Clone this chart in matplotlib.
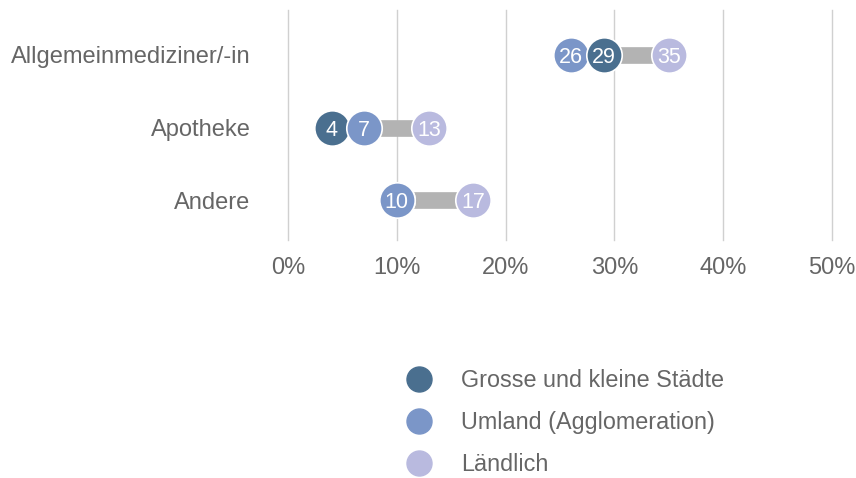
import matplotlib
matplotlib.use("Agg")
import matplotlib.pyplot as plt
from matplotlib.lines import Line2D

plt.rcParams['font.family'] = ['Liberation Sans', 'DejaVu Sans']

categories = ["Allgemeinmediziner/-in", "Apotheke", "Andere"]
series_names = ["Grosse und kleine Städte", "Umland (Agglomeration)", "Ländlich"]
grosse = [29, 4, 10]
umland = [26, 7, 10]
laendlich = [35, 13, 17]
xticks = [0, 10, 20, 30, 40, 50]
xticklabels = ["0%", "10%", "20%", "30%", "40%", "50%"]

colors = ["#4a6f8f", "#7b96c8", "#b9badf"]
text_color = "#666666"

W, H = 856, 478
fig = plt.figure(figsize=(W / 100, H / 100), dpi=100)
ax = fig.add_axes([288 / W, 1 - 240 / H, (832 - 288) / W, (240 - 10) / H])

ax.set_xlim(0, 50)
ax.set_ylim(2.55, -0.62)
for s in ax.spines.values():
    s.set_visible(False)
ax.set_xticks(xticks)
ax.set_xticklabels(xticklabels)
ax.set_yticks(range(len(categories)))
ax.set_yticklabels(categories)
ax.tick_params(axis='both', length=0, labelsize=17, labelcolor=text_color)
ax.tick_params(axis='y', pad=27)
ax.tick_params(axis='x', pad=12)
ax.grid(axis='x', color="#d0d0d0", linewidth=1.0)
for gl in ax.get_xgridlines():
    gl.set_clip_on(False)
ax.set_axisbelow(True)

series = [grosse, umland, laendlich]
for i in range(len(categories)):
    vals = [s[i] for s in series]
    ax.plot([min(vals), max(vals)], [i, i], color="#b3b3b3", linewidth=12,
            solid_capstyle='butt', zorder=2)
    # draw in order of increasing value; ties: Umland on top
    order = sorted(range(3), key=lambda k: (vals[k], k))
    for rank, k in enumerate(order):
        z = 3 + rank
        ax.plot(vals[k], i, 'o', markersize=25.5, color=colors[k],
                markeredgecolor='white', markeredgewidth=1.2, zorder=z, clip_on=False)
        ax.text(vals[k], i, str(vals[k]), color='white', fontsize=15.5,
                ha='center', va='center_baseline', zorder=z + 0.5)

handles = [Line2D([], [], marker='o', linestyle='none', markersize=18,
                  color=c) for c in colors]
leg = fig.legend(handles, series_names, loc='upper left',
                 bbox_to_anchor=(407.2 / W, 1 - 369 / H), frameon=False,
                 fontsize=16.8, labelcolor=text_color, handlelength=1.0,
                 handletextpad=1.3, labelspacing=0.82, borderpad=0,
                 borderaxespad=0)

fig.savefig("out.png", dpi=100)
